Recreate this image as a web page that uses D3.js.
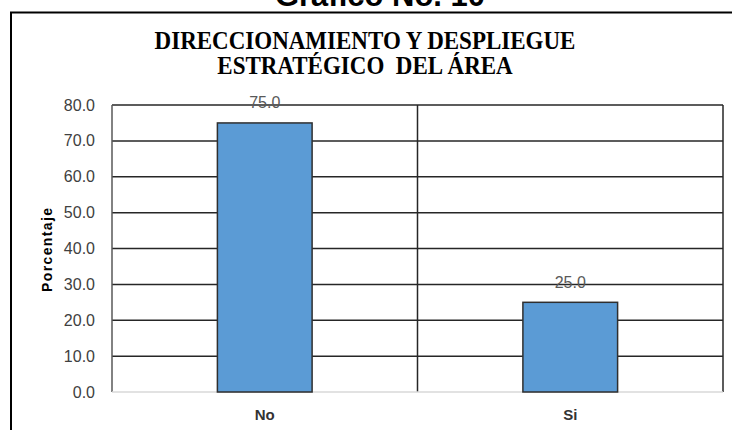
<!DOCTYPE html>
<html>
<head>
<meta charset="utf-8">
<script src="https://cdn.jsdelivr.net/npm/d3@7"></script>
<style>
  body { margin: 0; background: #fff; }
</style>
</head>
<body>
<div class="chart"></div>
<script>
// Data
const categories = ["No", "Si"]
const percentages = [75.0, 25.0]
const yTicks = [0, 10, 20, 30, 40, 50, 60, 70, 80]
const titleLines = ["DIRECCIONAMIENTO Y DESPLIEGUE", "ESTRATÉGICO\u00a0 DEL ÁREA"]

const width = 732
const height = 430
const plot = { left: 112, right: 723, top: 105, bottom: 392 }

const svg = d3.select('.chart')
            .append('svg')
            .attr('width', width)
            .attr('height', height)

// page heading, cut off at the top edge (as in the original)
svg.append("text")
    .attr("x", 380)
    .attr("y", 6)
    .attr("text-anchor", "middle")
    .attr("font-family", "Liberation Sans, Arial, sans-serif")
    .attr("font-weight", "bold")
    .attr("font-size", "31px")
    .attr("fill", "#000")
    .text("Gráfico No. 10")

// outer frame (left + top visible)
svg.append("path")
    .attr("d", `M11,${height} L11,12.5 L${width},12.5`)
    .attr("fill", "none")
    .attr("stroke", "#000")
    .attr("stroke-width", 2)

// chart title
svg.append("g")
    .selectAll("text")
    .data(titleLines)
    .join("text")
        .attr("transform", (d, i) => `translate(365, ${49 + i * 25}) scale(1, 1.05)`)
        .attr("text-anchor", "middle")
        .attr("font-family", "Liberation Serif, Times New Roman, serif")
        .attr("font-weight", "bold")
        .attr("font-size", "23px")
        .attr("fill", "#000")
        .text(d => d)

// scales
const x = d3.scaleBand()
    .domain(categories)
    .range([plot.left, plot.right])
    .padding(0)

const xBar = d3.scaleBand()
    .domain(categories)
    .range([plot.left, plot.right])
    .paddingInner(0.69)
    .paddingOuter(0.345)

const y = d3.scaleLinear()
    .domain([0, 80])
    .range([plot.bottom, plot.top])

// horizontal gridlines
svg.append("g")
    .selectAll("line")
    .data(yTicks.filter(d => d > 0))
    .join("line")
        .attr("x1", plot.left)
        .attr("x2", plot.right)
        .attr("y1", d => y(d))
        .attr("y2", d => y(d))
        .attr("stroke", "#262626")
        .attr("stroke-width", 1.5)

// vertical gridlines at category boundaries
const xEdges = categories.map(c => x(c)).concat([plot.right])
svg.append("g")
    .selectAll("line")
    .data(xEdges)
    .join("line")
        .attr("x1", d => d)
        .attr("x2", d => d)
        .attr("y1", plot.top)
        .attr("y2", plot.bottom)
        .attr("stroke", (d, i) => i === 0 ? "#595959" : "#262626")
        .attr("stroke-width", 1.5)

// category axis line
svg.append("line")
    .attr("x1", plot.left)
    .attr("x2", plot.right)
    .attr("y1", plot.bottom)
    .attr("y2", plot.bottom)
    .attr("stroke", "#d9d9d9")
    .attr("stroke-width", 1.5)

// bars
svg.append("g")
    .selectAll("rect")
    .data(categories)
    .join("rect")
        .attr("x", d => xBar(d))
        .attr("y", (d, i) => y(percentages[i]))
        .attr("width", xBar.bandwidth())
        .attr("height", (d, i) => y(0) - y(percentages[i]))
        .attr("fill", "#5b9bd5")
        .attr("stroke", "#2f2f2f")
        .attr("stroke-width", 1.5)

// value labels
svg.append("g")
    .selectAll("text")
    .data(categories)
    .join("text")
        .attr("x", d => xBar(d) + xBar.bandwidth() / 2)
        .attr("y", (d, i) => y(percentages[i]) - 14.5)
        .attr("text-anchor", "middle")
        .attr("font-family", "Liberation Sans, Arial, sans-serif")
        .attr("font-size", "16px")
        .attr("fill", "#595959")
        .text((d, i) => percentages[i].toFixed(1))

// y tick labels
svg.append("g")
    .selectAll("text")
    .data(yTicks)
    .join("text")
        .attr("x", 95)
        .attr("y", d => y(d))
        .attr("dy", "0.35em")
        .attr("text-anchor", "end")
        .attr("font-family", "Liberation Sans, Arial, sans-serif")
        .attr("font-size", "16px")
        .attr("fill", "#404040")
        .text(d => d.toFixed(1))

// category labels
svg.append("g")
    .selectAll("text")
    .data(categories)
    .join("text")
        .attr("x", d => x(d) + x.bandwidth() / 2)
        .attr("y", 420)
        .attr("text-anchor", "middle")
        .attr("font-family", "Liberation Sans, Arial, sans-serif")
        .attr("font-weight", "bold")
        .attr("font-size", "15px")
        .attr("fill", "#333")
        .text(d => d)

// y axis title
svg.append("text")
    .attr("transform", "translate(52, 250) rotate(-90)")
    .attr("text-anchor", "middle")
    .attr("font-family", "Liberation Sans, Arial, sans-serif")
    .attr("font-weight", "bold")
    .attr("font-size", "14px")
    .attr("textLength", 84)
    .attr("lengthAdjust", "spacing")
    .attr("fill", "#000")
    .text("Porcentaje")
</script>
</body>
</html>
